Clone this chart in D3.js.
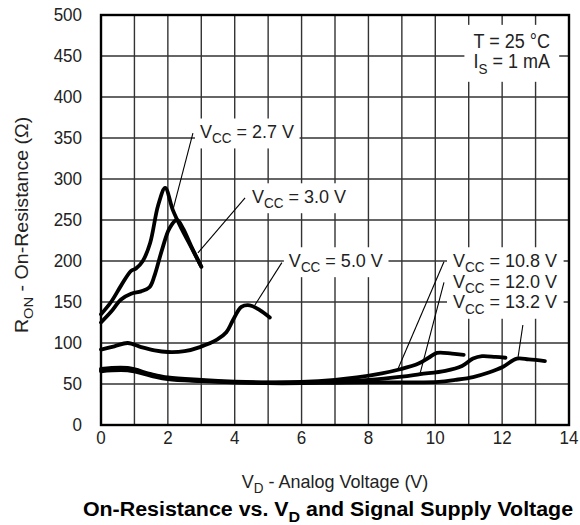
<!DOCTYPE html>
<html>
<head>
<meta charset="utf-8">
<script src="https://cdn.jsdelivr.net/npm/d3@7"></script>
<style>
  body { margin: 0; background: #fff; }
  text { font-family: "Liberation Sans", Arial, sans-serif; fill: #222; }
</style>
</head>
<body>
<script>
// data
const vcc27 = [[0,135],[0.3,150],[0.6,170],[0.9,188],[1.05,191],[1.25,200],[1.47,222],[1.71,268],[1.92,289],[2.15,262],[2.4,240],[2.66,220],[3.0,193]];
const vcc30 = [[0,125],[0.3,138],[0.6,153],[0.9,160],[1.2,163],[1.45,168],[1.6,182],[1.82,213],[2.05,240],[2.27,250],[2.45,240],[2.7,218],[3.0,193]];
const vcc50 = [[0,92],[0.4,96],[0.8,100],[1.2,95],[1.6,91],[2.0,89],[2.5,90],[2.96,95],[3.47,104],[3.75,113],[3.95,128],[4.2,144],[4.45,146],[4.75,140],[5.05,131]];
const vcc108 = [[0,68.5],[0.8,69.5],[1.5,62],[2,58],[3,55],[4,53],[5,52],[6,52.5],[7,55],[7.65,58],[8.4,63],[8.95,68],[9.5,75],[9.8,82],[10.05,88],[10.5,87],[10.85,85.5]];
const vcc120 = [[0,67],[0.8,68],[1.5,61],[2,57],[3,54],[4,52],[5,51.5],[6,52],[7,53],[8,55],[9,59],[9.55,62],[10.3,66],[10.8,72],[11.13,81],[11.4,84],[11.8,83],[12.1,82]];
const vcc132 = [[0,65.5],[0.8,66.5],[1.5,60],[2,56],[3,53.5],[4,52],[5,51],[6,51],[7,51.5],[8,52],[9,52],[10.1,52.5],[10.6,55],[11.13,58.5],[11.6,64],[12.03,71],[12.44,81],[12.8,80],[13.28,78]];

const xTicks = [0,2,4,6,8,10,12,14];
const yTicks = [0,50,100,150,200,250,300,350,400,450,500];
const vccNames = ['2.7','3.0','5.0','10.8','12.0','13.2'];

const width = 580, height = 525;
const margin = {top: 15, right: 11, bottom: 100, left: 101};
const K = 1.06; // text in the picture is a bit taller than wide

const x = d3.scaleLinear().domain([0,14]).range([margin.left, width - margin.right]);
const y = d3.scaleLinear().domain([0,500]).range([height - margin.bottom, margin.top]);

const svg = d3.select('body').append('svg')
  .attr('width', width)
  .attr('height', height);

const gridG = svg.append('g');
const boxG = svg.append('g');
const markG = svg.append('g');
const textG = svg.append('g');

// grid, every 1 V and 50 ohm
const grid = gridG.attr('stroke', '#333').attr('stroke-width', 1.4);
grid.selectAll('.vg').data(d3.range(1,14)).enter().append('line')
  .attr('x1', d => x(d)).attr('x2', d => x(d))
  .attr('y1', y(0)).attr('y2', y(500));
grid.selectAll('.hg').data(yTicks.slice(1,-1)).enter().append('line')
  .attr('x1', x(0)).attr('x2', x(14))
  .attr('y1', d => y(d)).attr('y2', d => y(d));

// frame
markG.append('rect')
  .attr('x', x(0)).attr('y', y(500))
  .attr('width', x(14) - x(0)).attr('height', y(0) - y(500))
  .attr('fill', 'none').attr('stroke', '#000').attr('stroke-width', 2.4);

// text helper; lines = [[main, sub, rest], ...], one text element
function label(px, py, size, anchor, lines, opts) {
  opts = opts || {};
  const k = opts.k || K;
  const t = textG.append('text')
    .attr('transform', 'translate(' + px + ',' + py + ') scale(1,' + k + ')' + (opts.rot ? ' rotate(' + opts.rot + ')' : ''))
    .attr('font-size', size)
    .attr('text-anchor', anchor);
  lines.forEach((l, i) => {
    t.append('tspan').attr('x', 0).attr('dy', i ? (opts.lh || 20) / k : 0).text(l[0]);
    if (l[1]) {
      t.append('tspan').attr('dy', size * 0.28).attr('font-size', size * 0.75).text(l[1]);
      t.append('tspan').attr('dy', -size * 0.28).text(l[2]);
    }
  });
  return t;
}

// white box behind a text
function boxBehind(node, padX, padY) {
  const r = node.node().getBoundingClientRect();
  boxG.append('rect')
    .attr('x', r.left - padX).attr('y', r.top - padY)
    .attr('width', r.width + 2 * padX).attr('height', r.height + 2 * padY)
    .attr('fill', '#fff');
}

// tick labels
xTicks.forEach(d => label(x(d), y(0) + 19, 17, 'middle', [[d]]));
yTicks.forEach(d => label(x(0) - 19, y(d) + 6, 17, 'end', [[d]]));

// curves
const line = d3.line()
  .x(d => x(d[0])).y(d => y(d[1]))
  .curve(d3.curveCatmullRom.alpha(0.5));
const series = [vcc132, vcc120, vcc108, vcc50, vcc30, vcc27];
markG.selectAll('.curve').data(series).enter().append('path')
  .attr('d', line)
  .attr('fill', 'none').attr('stroke', '#000')
  .attr('stroke-width', 3.8).attr('stroke-linejoin', 'round').attr('stroke-linecap', 'round');

// leader lines: [label end, curve point]
const leaders = [
  [[2.75, 356], [2.15, 262]],
  [[4.31, 277], [2.9, 210]],
  [[5.41, 198], [4.6, 146]],
  [[10.26, 199], [8.88, 68]],
  [[10.26, 174], [9.54, 62]],
  [[12.62, 122], [12.47, 81]]
];
markG.selectAll('.leader').data(leaders).enter().append('line')
  .attr('x1', d => x(d[0][0])).attr('y1', d => y(d[0][1]))
  .attr('x2', d => x(d[1][0])).attr('y2', d => y(d[1][1]))
  .attr('stroke', '#000').attr('stroke-width', 1.1);

// curve labels (text start / baseline in data units)
const vccLine = n => ['V', 'CC', ' = ' + n + ' V'];
boxBehind(label(x(2.96), y(350), 18, 'start', [vccLine(vccNames[0])]), 5, 2);
boxBehind(label(x(4.52), y(271), 18, 'start', [vccLine(vccNames[1])]), 5, 2);
boxBehind(label(x(5.62), y(193), 18, 'start', [vccLine(vccNames[2])]), 5, 2);
boxBehind(label(x(10.53), y(193), 18, 'start', vccNames.slice(3).map(vccLine), {lh: 20.8}), 6, 2);

boxBehind(label(x(13.43), y(460), 18, 'end', [['T = 25 °C'], ['I', 'S', ' = 1 mA']], {lh: 20.2, k: 1.12}), 9, 5);

// axis titles
label(28, y(244), 17.5, 'middle', [['R', 'ON', ' - On-Resistance (Ω)']], {rot: -90, k: 1.12});
label((x(0) + x(14)) / 2, 488, 18, 'middle', [['V', 'D', ' - Analog Voltage (V)']]);
label(328, 516, 21.4, 'middle', [['On-Resistance vs. V', 'D', ' and Signal Supply Voltage']], {k: 0.95})
  .attr('font-weight', 'bold').style('fill', '#000');
</script>
</body>
</html>
